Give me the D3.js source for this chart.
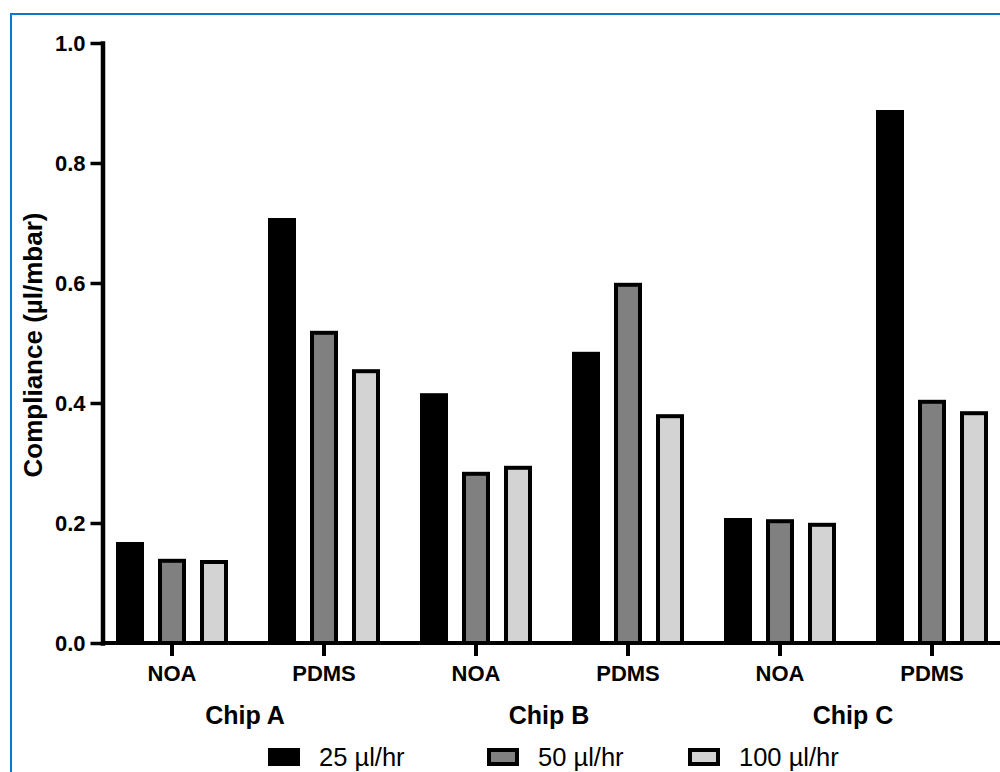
<!DOCTYPE html>
<html>
<head>
<meta charset="utf-8">
<script src="https://cdn.jsdelivr.net/npm/d3@7"></script>
<style>
  body { margin: 0; background: #fff; }
  svg { display: block; }
  text { font-family: Arial, "Liberation Sans", sans-serif; fill: #000; }
  .tick-label { font-weight: bold; font-size: 22px; }
  .group-label { font-weight: bold; font-size: 25px; }
  .axis-title { font-weight: bold; font-size: 26px; }
  .legend-label { font-size: 25.5px; }
</style>
</head>
<body>
<svg width="1000" height="772"></svg>
<script>
// chip / material groups along the x axis
const chips = ["Chip A", "Chip B", "Chip C"]
const materials = ["NOA", "PDMS"]
const series = ["25 µl/hr", "50 µl/hr", "100 µl/hr"]
const seriesColors = ["#000000", "#808080", "#d3d3d3"]
const yTicks = [0.0, 0.2, 0.4, 0.6, 0.8, 1.0]

// one value per group, in series order (25, 50, 100)
const chipA_NOA  = [0.165, 0.137, 0.135]
const chipA_PDMS = [0.705, 0.517, 0.453]
const chipB_NOA  = [0.413, 0.282, 0.292]
const chipB_PDMS = [0.482, 0.597, 0.378]
const chipC_NOA  = [0.205, 0.203, 0.197]
const chipC_PDMS = [0.885, 0.402, 0.383]

const groups = [
    {chip: "Chip A", material: "NOA",  values: chipA_NOA},
    {chip: "Chip A", material: "PDMS", values: chipA_PDMS},
    {chip: "Chip B", material: "NOA",  values: chipB_NOA},
    {chip: "Chip B", material: "PDMS", values: chipB_PDMS},
    {chip: "Chip C", material: "NOA",  values: chipC_NOA},
    {chip: "Chip C", material: "PDMS", values: chipC_PDMS},
]
groups.forEach((g, i) => g.key = i)

let svg = d3.select("svg")

// blue frame around the figure (runs off the right and bottom edge)
svg.append("rect")
    .attr("x", 11).attr("y", 14)
    .attr("width", 1100).attr("height", 900)
    .attr("fill", "none")
    .attr("stroke", "#0a78cc")
    .attr("stroke-width", 2)

const axisX = 102.5
let y = d3.scaleLinear().domain([0, 1]).range([643, 43])
let x = d3.scaleBand().domain(groups.map(g => g.key)).range([96, 1008])
let sub = d3.scaleBand().domain(series).range([-63, 63])
const barW = 24

let g = svg.append("g")

// bars
groups.forEach(function (grp) {
    let cx = x(grp.key) + x.bandwidth() / 2
    g.selectAll(null)
        .data(grp.values)
        .enter()
        .append("rect")
            .attr("x", (d, i) => cx + sub(series[i]) + (sub.bandwidth() - barW) / 2)
            .attr("y", d => y(d))
            .attr("width", barW)
            .attr("height", d => y(0) - y(d))
            .attr("fill", (d, i) => seriesColors[i])
            .attr("stroke", "#000")
            .attr("stroke-width", 4)
})

// y axis
let yAxis = g.append("g")
    .attr("transform", `translate(${axisX},0)`)
    .call(d3.axisLeft(y).tickValues(yTicks).tickFormat(d3.format(".1f")).tickSize(12).tickSizeOuter(0))
yAxis.select(".domain").attr("stroke-width", 4.5).attr("stroke-linecap", "square")
yAxis.selectAll(".tick line").attr("stroke-width", 3.5)
yAxis.selectAll(".tick text")
    .attr("class", "tick-label")
    .attr("x", -17)
    .attr("dy", "0.36em")

// x axis
let xAxis = g.append("g")
    .attr("transform", `translate(0,${y(0)})`)
    .call(d3.axisBottom(x).tickFormat(k => groups[k].material).tickSize(13).tickSizeOuter(0))
xAxis.select(".domain")
    .attr("d", `M${axisX},0H1010`)
    .attr("stroke-width", 4)
xAxis.selectAll(".tick line").attr("stroke-width", 4)
xAxis.selectAll(".tick text")
    .attr("class", "tick-label")
    .attr("y", 22)
    .attr("dy", "0.71em")

// chip labels, centred under each pair
chips.forEach(function (chip) {
    let keys = groups.filter(d => d.chip == chip).map(d => d.key)
    let left = x(keys[0]) + x.bandwidth() / 2
    let right = x(keys[keys.length - 1]) + x.bandwidth() / 2
    g.append("text")
        .attr("class", "group-label")
        .attr("x", (left + right) / 2 - 3)
        .attr("y", 724)
        .attr("text-anchor", "middle")
        .text(chip)
})

// y axis title
g.append("text")
    .attr("class", "axis-title")
    .attr("transform", `translate(42,${(y(0) + y(1)) / 2 + 2}) rotate(-90)`)
    .attr("text-anchor", "middle")
    .text("Compliance (µl/mbar)")

// legend
const legendX = [270, 489, 690]
let legend = g.selectAll(".legend")
    .data(series)
    .enter()
    .append("g")
        .attr("class", "legend")
        .attr("transform", (d, i) => `translate(${legendX[i]},757)`)
legend.append("rect")
    .attr("x", 0).attr("y", -7)
    .attr("width", 28).attr("height", 14)
    .attr("fill", (d, i) => seriesColors[i])
    .attr("stroke", "#000")
    .attr("stroke-width", 4)
legend.append("text")
    .attr("class", "legend-label")
    .attr("x", 49)
    .attr("y", 9)
    .text(d => d)
</script>
</body>
</html>
